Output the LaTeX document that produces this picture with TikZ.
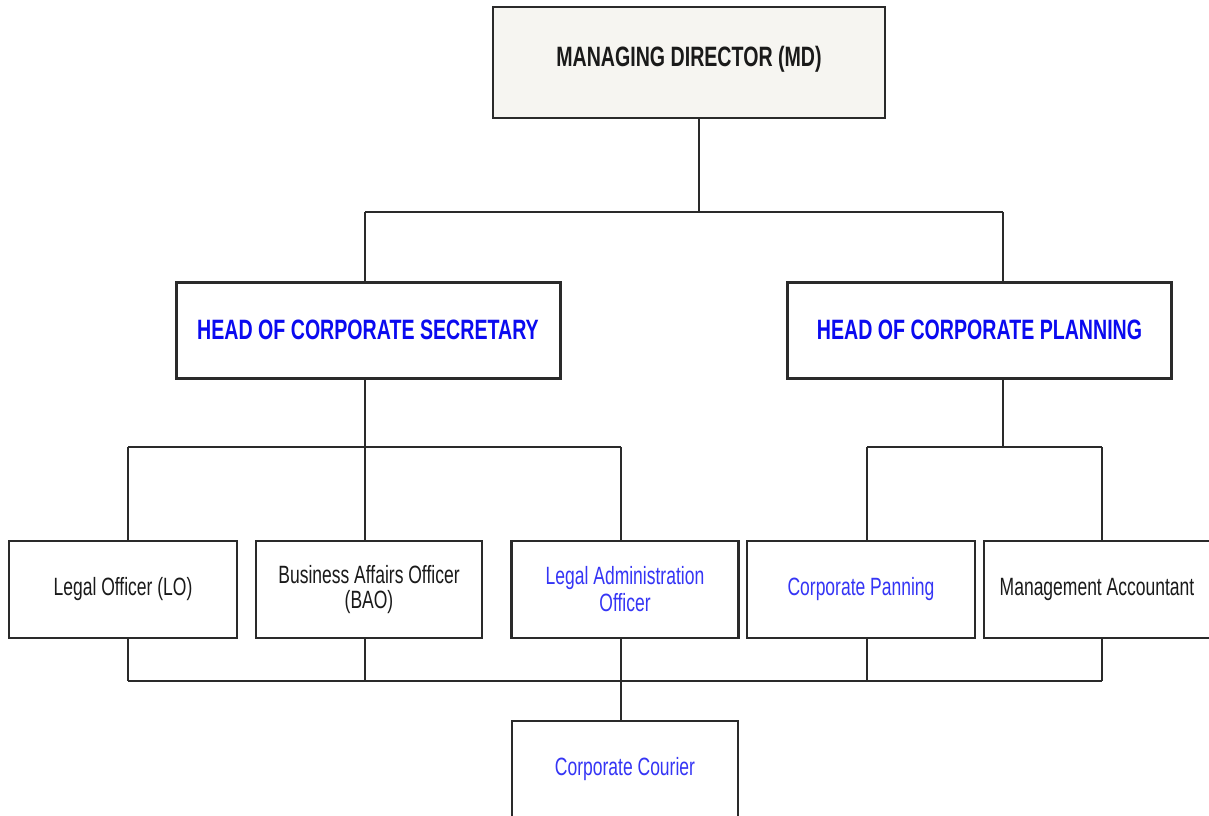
\documentclass[tikz,border=0pt]{standalone}
\usepackage{fontspec}
\setmainfont[FakeStretch=0.70]{Liberation Sans}
\definecolor{mdfill}{HTML}{F6F5F1}
\definecolor{edge}{HTML}{2A2A2A}
\definecolor{headblue}{HTML}{0A0AF0}
\definecolor{staffblue}{HTML}{3535F5}
\definecolor{ink}{HTML}{1A1A1A}
\tikzset{
  topbox/.style={draw=edge, fill=mdfill, line width=2.2pt, minimum width=392pt,
    minimum height=111pt, inner sep=0pt, text=ink,
    font=\bfseries\fontsize{28}{32}\selectfont},
  headbox/.style={draw=edge, fill=white, line width=3pt, minimum width=384pt,
    minimum height=96pt, inner sep=0pt, text=headblue,
    font=\bfseries\fontsize{28}{32}\selectfont},
  staffbox/.style={draw=edge, fill=white, line width=2.2pt, minimum width=228pt,
    minimum height=97pt, inner sep=0pt, align=center, text=ink,
    font=\fontsize{25}{25}\selectfont},
  bluestaff/.style={staffbox, text=staffblue},
  link/.style={draw=edge, line width=2pt},
}
\begin{document}
\begin{tikzpicture}[x=1pt,y=-1pt]
\clip (0,0) rectangle (1209,815);
\fill[white] (0,0) rectangle (1209,815);

% boxes
\node[topbox] (md) at (689,62.5) {\raisebox{-4pt}[0pt][0pt]{MANAGING DIRECTOR (MD)}};
\node[headbox] (hcs) at (368,330) {HEAD OF CORPORATE SECRETARY};
\node[headbox] (hcp) at (979.5,330) {HEAD OF CORPORATE PLANNING};

\node[staffbox] (lo) at (123,589.5) {Legal Officer (LO)};
\node[staffbox, minimum width=226pt] (bao) at (369,589.5) {Business Affairs Officer\\(BAO)};
\node[bluestaff, minimum width=227pt, font=\fontsize{25}{27}\selectfont] (lao) at (625,589.5) {Legal Administration\\Officer};
\node[bluestaff] (cp) at (861,589.5) {Corporate Panning};
\node[staffbox, minimum width=226pt] (ma) at (1097,589.5) {Management Accountant};
\node[bluestaff, minimum width=226pt] (cc) at (625,769.5) {Corporate Courier};

% bus coordinates
\coordinate (busTop) at (699,212);
\coordinate (h1) at (365,212);
\coordinate (h2) at (1003,212);
\coordinate (busSec) at (365,447);
\coordinate (busPlan) at (1003,447);
\coordinate (busLow) at (621,681);

% managing director to the two heads
\draw[link] (md.south -| busTop) -- (busTop);
\draw[link] (h1) -- (h2);
\draw[link] (h1) -- (h1 |- hcs.north);
\draw[link] (h2) -- (h2 |- hcp.north);

% corporate secretary branch
\draw[link] (hcs.south -| busSec) -- (busSec);
\coordinate (s1) at (128,447);
\coordinate (s3) at (621,447);
\draw[link] (s1) -- (s3);
\draw[link] (s1) -- (s1 |- lo.north);
\draw[link] (busSec) -- (busSec |- bao.north);
\draw[link] (s3) -- (s3 |- lao.north);

% corporate planning branch
\draw[link] (hcp.south -| busPlan) -- (busPlan);
\coordinate (p1) at (867,447);
\coordinate (p2) at (1102,447);
\draw[link] (p1) -- (p2);
\draw[link] (p1) -- (p1 |- cp.north);
\draw[link] (p2) -- (p2 |- ma.north);

% shared lower bus
\coordinate (l1) at (128,681);
\coordinate (l5) at (1102,681);
\draw[link] (l1) -- (l5);
\draw[link] (lo.south -| l1) -- (l1);
\draw[link] (bao.south -| busSec) -- (busSec |- l1);
\draw[link] (lao.south -| busLow) -- (busLow);
\draw[link] (cp.south -| p1) -- (p1 |- l1);
\draw[link] (ma.south -| l5) -- (l5);
\draw[link] (busLow) -- (busLow |- cc.north);
\end{tikzpicture}
\end{document}
